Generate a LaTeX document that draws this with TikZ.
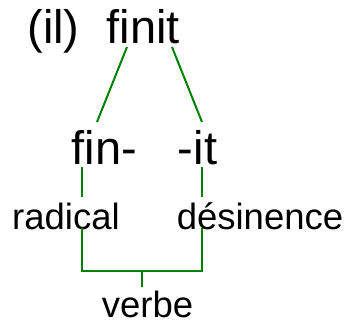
\documentclass[tikz,border=0pt]{standalone}
\usepackage{fontspec}
\setmainfont{Liberation Sans}
\begin{document}
\begin{tikzpicture}[x=1pt,y=1pt,
  word/.style={anchor=base,inner sep=0pt,font=\fontsize{47}{50}\selectfont},
  gloss/.style={anchor=base,inner sep=0pt,font=\fontsize{36.5}{40}\selectfont},
  branch/.style={draw=green!50!black,line width=2pt}]
\useasboundingbox (0,0) rectangle (347,321);
\node[word] (il) at (53.5,277) {(il)};
\node[word] (finit) at (143.5,277) {finit};
\node[word] (fin) at (104.5,156) {fin-};
\node[word] (it) at (197.5,156) {-it};
\node[gloss] (radical) at (66,92) {radical};
\node[gloss] (desinence) at (260,92) {désinence};
\node[gloss] (verbe) at (147.5,3.5) {verbe};
% bracket
\coordinate (left) at (82,50);
\coordinate (right) at (202,50);
\coordinate (mid) at (142,50);
\draw[branch] ([shift={(-16.5,-3)}]finit.base) -- ([shift={(-7.5,43)}]fin.base);
\draw[branch] ([shift={(28.5,-3)}]finit.base) -- ([shift={(4.5,43)}]it.base);
\draw[branch] ([shift={(-22.5,-2)}]fin.base) -- ([shift={(16,32)}]radical.base);
\draw[branch] ([shift={(4.5,-2)}]it.base) -- ([shift={(-58,32)}]desinence.base);
\draw[branch] ([shift={(16,1)}]radical.base) -- (left) -- (right) -- ([shift={(-58,1)}]desinence.base);
\draw[branch] (mid) -- ([shift={(-5.5,30.5)}]verbe.base);
\end{tikzpicture}
\end{document}
